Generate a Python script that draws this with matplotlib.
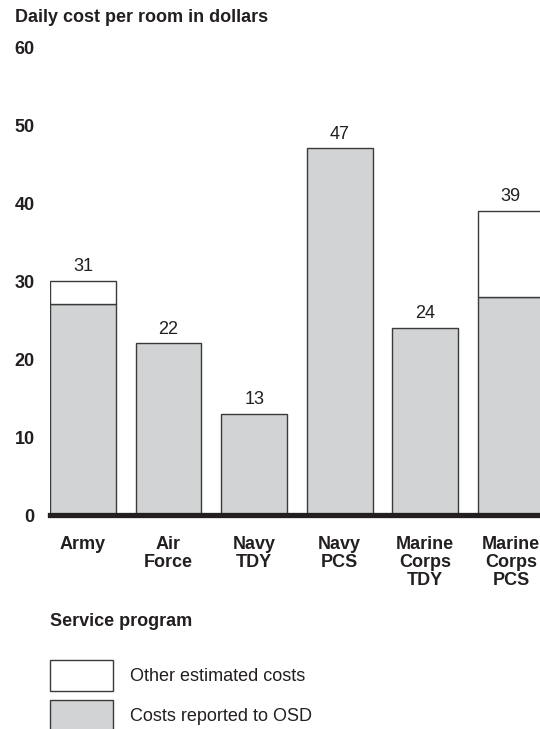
import matplotlib

matplotlib.use("Agg")
import matplotlib.pyplot as plt
from matplotlib.patches import Patch

plt.rcParams["font.family"] = ["Liberation Sans", "DejaVu Sans"]

# ---- data -------------------------------------------------------------
programs = ["Army", "Air\nForce", "Navy\nTDY", "Navy\nPCS",
            "Marine\nCorps\nTDY", "Marine\nCorps\nPCS"]
reported = [27, 22, 13, 47, 24, 28]      # costs reported to OSD
other = [3, 0, 0, 0, 0, 11]              # other estimated costs
total_labels = [31, 22, 13, 47, 24, 39]  # printed totals
yticks = [0, 10, 20, 30, 40, 50, 60]

INK = "#231f20"
GRAY = "#d1d3d4"
EDGE = "#3a3a3a"
FS = 13

W, H = 540, 729
fig = plt.figure(figsize=(W / 100, H / 100), dpi=100)
# axes: left at 50px, right at 540px, baseline at 515px, 60 at 47px
ax = fig.add_axes([50 / W, 1 - 515 / H, 490 / W, (515 - 47) / H])

x = list(range(len(programs)))
width = 0.77
ax.bar(x, reported, width, color=GRAY, edgecolor=EDGE, lw=1.0, zorder=2)
tops = [r + o for r, o in zip(reported, other)]
for xi, r, o in zip(x, reported, other):
    if o > 0:
        ax.bar(xi, o, width, bottom=r, color="white", edgecolor=EDGE,
               lw=1.0, zorder=2)

for xi, t, lab in zip(x, tops, total_labels):
    ax.annotate(f"{lab}", (xi, t), xytext=(0, 4), textcoords="offset points",
                ha="center", va="bottom", fontsize=FS, color=INK)

ax.axhline(0, color=INK, lw=3.8, zorder=3, clip_on=False)

ax.set_xlim(-0.385, 5.34)
ax.set_ylim(0, 60)
ax.set_yticks(yticks)
ax.set_yticklabels([str(v) for v in yticks], fontsize=FS, fontweight="bold",
                   color=INK)
ax.set_xticks(x)
ax.set_xticklabels(programs, fontsize=FS, fontweight="bold", color=INK,
                   linespacing=1.1, va="top")
ax.tick_params(axis="y", length=0, pad=11)
ax.tick_params(axis="x", length=0, pad=15)
for s in ax.spines.values():
    s.set_visible(False)

fig.text(15 / W, 1 - 17 / H, "Daily cost per room in dollars", fontsize=FS,
         fontweight="bold", color=INK, ha="left", va="center")
fig.text(50 / W, 1 - 622 / H, "Service program", fontsize=FS,
         fontweight="bold", color=INK, ha="left", va="center")

handles = [Patch(facecolor="white", edgecolor=EDGE, lw=1.0),
           Patch(facecolor=GRAY, edgecolor=EDGE, lw=1.0)]
fig.legend(handles, ["Other estimated costs", "Costs reported to OSD"],
           loc="upper left", bbox_to_anchor=(50 / W, 1 - 660 / H),
           frameon=False, fontsize=FS, handlelength=3.5, handleheight=2.26,
           labelspacing=0.5, handletextpad=0.95, borderpad=0,
           borderaxespad=0, labelcolor=INK)

fig.savefig("out.png", dpi=100)
